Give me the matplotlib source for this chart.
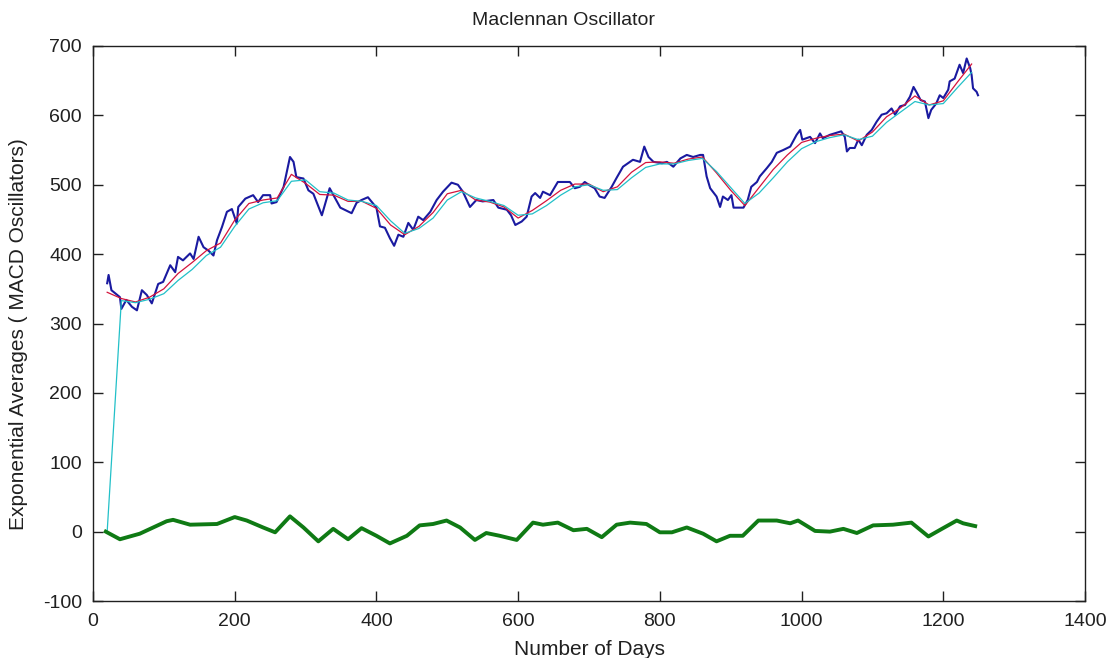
import matplotlib
matplotlib.use("Agg")
from matplotlib import pyplot as plt

plt.rcParams['font.family'] = ['Liberation Sans', 'DejaVu Sans']
plt.rcParams['axes.unicode_minus'] = False

# price (blue)
blue_days = [20, 22, 26, 38, 40, 47, 55, 62, 69, 76, 83, 92, 99, 109, 116, 120, 127, 137, 142, 149,
             156, 163, 170, 175, 182, 189, 196, 203, 205, 215, 226, 233, 240, 250, 252, 259, 269, 273, 278, 283,
             287, 297, 304, 311, 323, 334, 349, 365, 372, 379, 388, 400, 405, 412, 419, 425, 431, 438, 445, 452,
             459, 466, 476, 485, 494, 506, 515, 522, 532, 541, 550, 565, 572, 584, 590, 596, 605, 612, 619, 624,
             631, 635, 645, 656, 673, 680, 687, 694, 701, 708, 715, 722, 732, 739, 748, 762, 772, 778, 784, 791,
             803, 810, 819, 829, 838, 847, 857, 861, 866, 871, 880, 885, 889, 896, 901, 904, 918, 924, 929, 937,
             941, 951, 958, 965, 974, 984, 993, 998, 1001, 1012, 1019, 1026, 1030, 1040, 1056, 1061, 1064, 1068, 1075, 1080,
             1085, 1092, 1099, 1106, 1113, 1120, 1127, 1132, 1139, 1146, 1153, 1158, 1163, 1168, 1174, 1179, 1183, 1190, 1195, 1200,
             1207, 1209, 1216, 1223, 1228, 1233, 1238, 1240, 1242, 1247, 1249]
blue_vals = [358, 370, 348, 338, 321, 334, 324, 319, 348, 341, 329, 357, 360, 384, 374, 396, 391, 401, 393, 425,
             410, 405, 398, 420, 439, 461, 465, 444, 468, 480, 485, 475, 485, 485, 473, 475, 497, 516, 540, 533,
             511, 509, 492, 487, 456, 495, 467, 459, 474, 478, 482, 467, 440, 438, 423, 412, 428, 425, 445, 435,
             454, 449, 461, 478, 490, 503, 500, 490, 468, 478, 476, 478, 467, 464, 456, 442, 447, 454, 483, 488,
             481, 490, 485, 504, 504, 495, 497, 504, 499, 495, 483, 481, 497, 510, 526, 536, 533, 555, 540, 533,
             531, 533, 526, 538, 543, 540, 543, 543, 512, 495, 483, 468, 483, 478, 485, 467, 467, 478, 497, 504,
             512, 524, 533, 546, 550, 555, 572, 579, 565, 569, 560, 574, 567, 572, 577, 569, 548, 553, 553, 565,
             557, 572, 579, 591, 601, 603, 610, 601, 613, 615, 627, 641, 632, 622, 620, 596, 608, 617, 629, 625,
             637, 649, 653, 673, 661, 682, 668, 658, 639, 634, 629]

# faster exponential average (red)
red_days = [20, 40, 60, 80, 100, 120, 140, 160, 180, 200, 220, 240, 260, 280, 300, 320, 340, 360, 380, 400,
            420, 440, 460, 480, 500, 520, 540, 560, 580, 600, 620, 640, 660, 680, 700, 720, 740, 760, 780, 800,
            820, 840, 860, 880, 900, 920, 940, 960, 980, 1000, 1020, 1040, 1060, 1080, 1100, 1120, 1140, 1160, 1180, 1200,
            1220, 1240]
red_vals = [345, 336, 331, 338, 350, 372, 388, 405, 416, 449, 473, 478, 481, 515, 502, 486, 485, 476, 476, 466,
            442, 428, 440, 460, 487, 492, 478, 475, 468, 452, 463, 477, 492, 501, 501, 490, 497, 518, 532, 533,
            531, 537, 540, 517, 492, 470, 496, 522, 543, 561, 567, 571, 573, 563, 576, 598, 611, 628, 615, 621,
            648, 674]

# slower exponential average (cyan)
cyan_days = red_days
cyan_vals = [0, 333, 330, 335, 343, 362, 378, 398, 410, 440, 465, 474, 477, 505, 507, 490, 488, 478, 476, 470,
             448, 430, 437, 452, 478, 490, 481, 476, 470, 456, 458, 470, 485, 497, 500, 492, 493, 510, 525, 530,
             530, 535, 538, 519, 496, 473, 488, 510, 533, 552, 562, 568, 572, 565, 570, 590, 605, 620, 615, 617,
             640, 662]

# oscillator (green)
green_days = [18, 38, 66, 104, 113, 137, 175, 200, 217, 240, 257, 278, 297, 318, 339, 360, 379, 400, 419, 443,
              461, 480, 499, 518, 539, 555, 574, 598, 621, 635, 656, 678, 697, 718, 739, 758, 781, 800, 817, 838,
              861, 880, 899, 917, 939, 965, 984, 995, 1019, 1040, 1059, 1078, 1101, 1129, 1155, 1179, 1198, 1219, 1228, 1245]
green_vals = [0, -11, -3, 15, 17, 10, 11, 21, 16, 6, -1, 22, 6, -14, 4, -11, 5, -6, -17, -6,
              9, 11, 16, 6, -12, -2, -6, -12, 13, 10, 13, 2, 4, -8, 10, 13, 11, -1, -1, 6,
              -3, -14, -6, -6, 16, 16, 12, 16, 1, 0, 4, -2, 9, 10, 13, -7, 4, 16, 12, 8]

fig = plt.figure(figsize=(11.08, 6.58), dpi=100)
ax = fig.add_axes([93 / 1108, 1 - 601 / 658, (1085 - 93) / 1108, (601 - 46) / 658])

ax.plot(blue_days, blue_vals, color='#1a1aa0', lw=1.5)
ax.plot(red_days, red_vals, color='#d4143c', lw=0.9)
ax.plot(cyan_days, cyan_vals, color='#22c0c8', lw=0.9)
ax.plot(green_days, green_vals, color='#0f7a14', lw=2.8)

ax.set_xlim(0, 1400)
ax.set_ylim(-100, 700)
ax.set_xticks(range(0, 1401, 200))
ax.set_yticks(range(-100, 701, 100))
ax.tick_params(direction='in', length=7, width=1, top=True, right=True, labelsize=14, colors='#202020')
ax.tick_params(axis='x', pad=9)
ax.tick_params(axis='y', pad=8)
for s in ax.spines.values():
    s.set_linewidth(1.0)
    s.set_color('#202020')

ax.set_title('Maclennan Oscillator', fontsize=14, x=0.474, pad=15, color='#202020')
ax.set_xlabel('Number of Days', fontsize=15, labelpad=7, color='#202020')
ax.set_ylabel('Exponential Averages ( MACD Oscillators)', fontsize=15, labelpad=4, color='#202020')
ax.yaxis.set_label_coords(-0.066, 0.48)

fig.savefig('out.png', dpi=100)
